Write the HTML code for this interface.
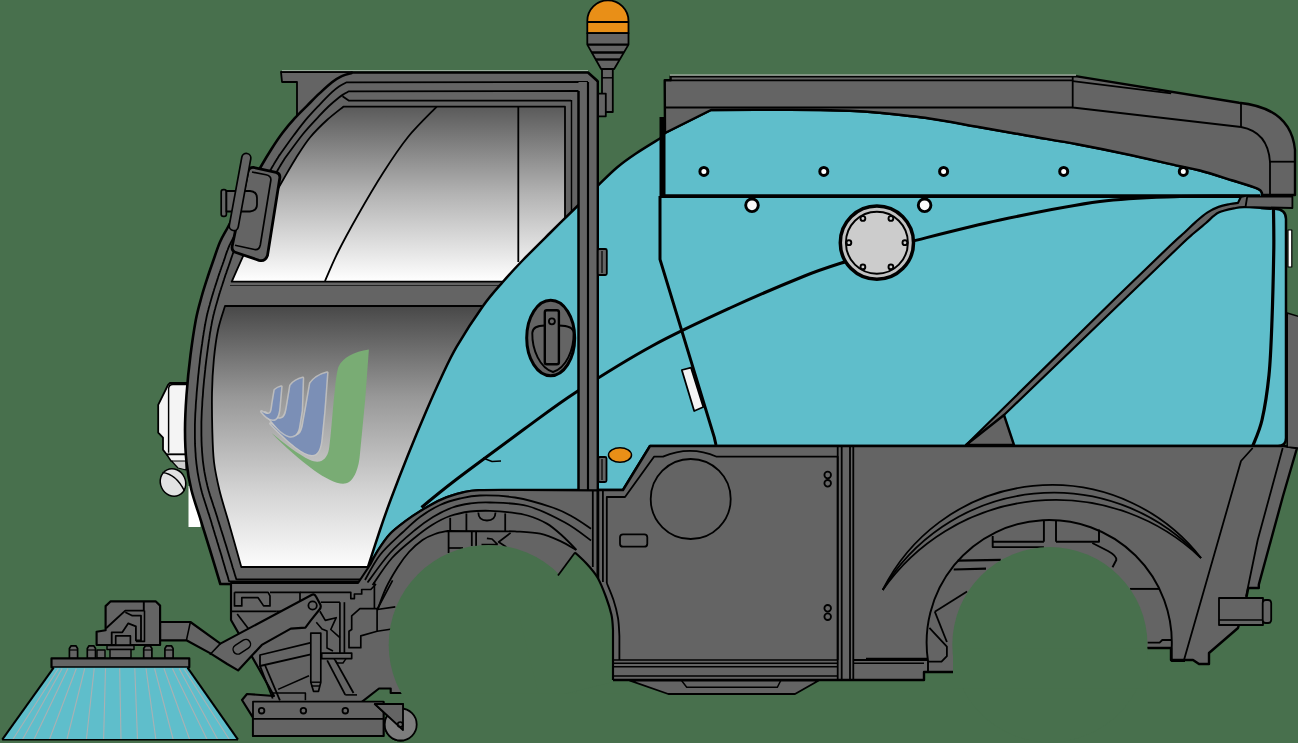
<!DOCTYPE html>
<html><head><meta charset="utf-8"><title>Sweeper</title>
<style>html,body{margin:0;padding:0;background:#48704d;overflow:hidden}svg{display:block}</style>
</head><body>
<svg width="1298" height="743" viewBox="0 0 1298 743" stroke-linejoin="round" stroke-linecap="butt">
<defs>
<linearGradient id="g1" x1="0" y1="0" x2="0" y2="1"><stop offset="0" stop-color="#5a5a5a"/><stop offset="0.5" stop-color="#b3b3b3"/><stop offset="1" stop-color="#ffffff"/></linearGradient>
<linearGradient id="g2" x1="0" y1="0" x2="0" y2="1"><stop offset="0" stop-color="#484848"/><stop offset="0.35" stop-color="#989898"/><stop offset="0.7" stop-color="#d2d2d2"/><stop offset="1" stop-color="#fcfcfc"/></linearGradient>
</defs>
<rect width="1298" height="743" fill="#48704d"/>
<path d="M587.3 33.2 L587.3 21 A20.6 20.6 0 0 1 628.5 21 L628.5 33.2 Z" fill="#e98f17" stroke="#000" stroke-width="1.8" />
<path d="M587.3 22L628.5 22" fill="none" stroke="#000" stroke-width="1.8" />
<path d="M587.3 33.2 L628.5 33.2 L628.5 44.6 L614.2 69 L601.1 69 L587.3 44.6 Z" fill="#646464" stroke="#000" stroke-width="1.8" />
<path d="M587.3 44.6L628.5 44.6" fill="none" stroke="#000" stroke-width="2.4" />
<path d="M591.8 52.5L623.9 52.5" fill="none" stroke="#000" stroke-width="2.4" />
<path d="M595.7 59.5L619.8 59.5" fill="none" stroke="#000" stroke-width="2.4" />
<rect x="602" y="69" width="10.8" height="43" rx="0" fill="#646464" stroke="#000" stroke-width="1.8"/>
<path d="M602 77.8L612.8 77.8" fill="none" stroke="#000" stroke-width="1.44" />
<rect x="598.1" y="93.6" width="7.7" height="22.7" rx="0" fill="#646464" stroke="#000" stroke-width="1.8"/>
<path d="M281 72L352 72L352 125L297 125L297 82L282 82Z" fill="#646464" stroke="#000" stroke-width="1.8" />
<rect x="188.5" y="486" width="12" height="41" rx="0" fill="#fff" stroke="none" stroke-width="0"/>
<path d="M170 383L195 383L195 454.5L166.7 454.5L163 449.7L163 437.6L158.2 432.7L158.2 404.8L168 385Z" fill="#f4f4f4" stroke="#000" stroke-width="1.8" />
<path d="M168.6 452.8 L168.6 389 Q168.6 384.5 173 384.5 L195 384.5" fill="none" stroke="#000" stroke-width="1.44" />
<path d="M166.7 454.5L195 454.5L195 470L171 461Z" fill="#f4f4f4" stroke="#000" stroke-width="1.44" />
<path d="M171.5 461L186 461L186 470L178 468Z" fill="#cfcfcf" stroke="#000" stroke-width="1.2" />
<ellipse cx="173" cy="482.5" rx="12.5" ry="14" transform="rotate(-25 173 482.5)" fill="#e2e2e2" stroke="#000" stroke-width="1.5"/>
<path d="M162.5 472.5 Q176 474 184.5 491" fill="none" stroke="#000" stroke-width="1.44" />
<path d="M282 70.6L588 70.6" fill="none" stroke="#b9c4ba" stroke-width="0.8" />
<path d="M351.7 72.5 L588 72.5 L597.5 81 L597.5 490 L520 490C513.2 490 488.8 489.8 479.3 490.2C469.8 490.6 469.4 490.9 463.1 492.4C456.8 493.9 448.8 496.2 441.6 499.4C434.4 502.5 426.1 507.6 420 511.3C413.9 515 410 517.7 405 521.5C400 525.3 394.5 529.2 390 534C385.5 538.8 381.3 545.3 378 550.5C374.7 555.7 371.3 562.6 370 565L368 578L360.3 584.5L220.3 584C218.6 578.3 213.3 560.7 210 550C206.7 539.3 203.8 530 200.7 520C197.6 510 193.8 499.7 191.4 490C189 480.3 187.6 472 186.5 462C185.4 452 185 441.2 185 430C185 418.8 185.6 407.5 186.5 395C187.4 382.5 188.9 367.5 190.5 355C192.1 342.5 194 329.7 195.8 320C197.6 310.3 199.5 304.3 201.5 297C203.5 289.7 206 282.2 208 276C210 269.8 211.5 265.7 213.5 260C215.5 254.3 217.6 247.5 220 242C222.4 236.5 225 232.7 228 227C231 221.3 234.3 214.8 238 208C241.7 201.2 245.9 193.3 250 186C254.1 178.7 258.8 170.2 262.4 164C266 157.8 268.2 154.2 271.5 149C274.8 143.8 278.5 138.1 282.4 133C286.3 127.9 290.7 122.7 294.8 118.2C298.9 113.7 302.9 109.9 307 105.8C311.1 101.7 315.3 97.3 319.5 93.4C323.7 89.5 328.3 85.2 332 82.3C335.7 79.4 338.5 77.6 341.8 76.1C345.1 74.5 350.1 73.5 351.7 73Z" fill="#646464" stroke="#000" stroke-width="2.6" />
<path d="M588 82L346.8 82.3C345.5 83 341.5 84.8 339 86.5C336.5 88.2 335.2 89.2 332 92.2C328.8 95.2 323.6 100.5 319.5 104.8C315.4 109.1 311.4 113.2 307.2 118.2C302.9 123.2 298.7 128.8 294 135C289.3 141.2 281.6 152.2 279.1 155.6L279.1 155.6L278.4 156.8L277.7 158L277 159.1L276.3 160.2L275.6 161.3L274.9 162.5L274.2 163.6L273.5 164.9L272.7 166.2L271.9 167.5L271.1 169L270.1 170.6L269.2 172.2L268.2 174L267.2 175.8L266.2 177.6L265.1 179.5L264 181.4L263 183.3L261.9 185.2L260.8 187.1L259.8 189L258.7 190.8L257.7 192.7L256.7 194.5L255.7 196.4L254.7 198.3L253.6 200.1L252.6 202L251.6 203.8L250.6 205.7L249.6 207.5L248.7 209.2L247.7 211L246.8 212.7L245.9 214.4L245 216.1L244.1 217.7L243.3 219.4L242.4 221L241.6 222.6L240.8 224.2L240 225.7L239.1 227.3L238.4 228.8L237.6 230.3L236.8 231.7L236 233.1L235.3 234.5L234.6 235.7L233.9 237L233.2 238.1L232.6 239.3L232 240.4L231.4 241.5L230.8 242.6L230.3 243.7L229.7 244.8L229.2 246L228.6 247.3L228.1 248.6L227.6 250L227 251.4L226.5 252.9L226 254.3L225.5 255.8L225 257.4L224.5 258.9L224 260.4L223.5 261.8L222.9 263.3L222.5 264.7L222 266L221.5 267.3L221.1 268.6L220.6 269.8L220.2 271.1L219.8 272.3L219.3 273.6L218.9 274.9L218.4 276.2L218 277.6L217.5 279.1L217 280.7L216.5 282.3L216 283.9L215.4 285.6L214.9 287.3L214.3 289L213.8 290.8L213.2 292.6L212.7 294.4L212.1 296.2L211.6 298L211.1 299.8L210.6 301.5L210.1 303.2L209.7 304.9L209.2 306.6L208.7 308.3L208.3 310L207.8 311.8L207.4 313.6L206.9 315.5L206.5 317.5L206.1 319.6L205.6 321.9L205.2 324.3L204.7 326.8L204.3 329.5L203.8 332.2L203.4 335L202.9 337.9L202.5 340.9L202.1 343.9L201.6 347L201.2 350.1L200.8 353.1L200.4 356.2L200 359.4L199.7 362.6L199.3 365.9L198.9 369.2L198.6 372.6L198.2 376L197.9 379.4L197.6 382.8L197.3 386.1L197 389.4L196.7 392.6L196.5 395.7L196.3 398.8L196 401.8L195.8 404.8L195.7 407.7L195.5 410.6L195.3 413.4L195.2 416.2L195.1 419L195 421.8L194.9 424.6L194.9 427.3L194.9 430L194.9 432.7L194.9 435.4L194.9 438.1L195 440.7L195 443.4L195.1 446L195.3 448.6L195.4 451.1L195.6 453.6L195.7 456.1L195.9 458.6L196.2 461L196.4 463.3L196.7 465.7L197 467.9L197.3 470.1L197.6 472.3L198 474.5L198.4 476.6L198.8 478.8L199.2 480.9L199.7 483.1L200.2 485.4L200.7 487.6L201.3 490L201.9 492.3L202.6 494.7L203.3 497.1L204.1 499.6L204.9 502L205.7 504.5L206.5 507L207.3 509.6L208.1 512.1L209 514.6L209.7 517.1L210.5 519.6L211.3 522.1L212 524.6L212.8 527L213.5 529.5L214.3 532L215 534.4L215.8 536.9L216.6 539.5L217.3 542L218.1 544.6L218.9 547.3L219.8 550.1L220.7 553.1L221.7 556.3L222.6 559.6L223.6 562.9L224.6 566.2L225.5 569.4L226.4 572.4L227.3 575.1L228 577.6L228.6 579.7L229.1 581.3L229.2 581.4L361 581.4" fill="none" stroke="#000" stroke-width="1.8" />
<path d="M579 91L349 91.3C348.2 91.8 345.6 93 344 94C342.4 95 341.8 95.2 339.3 97.2C336.8 99.2 332.3 102.9 329 106C325.7 109.1 323.8 111 319.5 115.7C315.2 120.4 308.8 126.8 303 134C297.2 141.2 287.5 154.8 284.4 159L284.4 159L283.7 160.2L283 161.3L282.3 162.4L281.6 163.5L281 164.6L280.3 165.7L279.6 166.9L278.9 168.1L278.2 169.3L277.4 170.7L276.5 172.2L275.6 173.7L274.7 175.4L273.7 177.1L272.7 178.9L271.6 180.7L270.6 182.6L269.5 184.5L268.4 186.4L267.4 188.3L266.3 190.2L265.3 192.1L264.3 193.9L263.2 195.7L262.2 197.6L261.2 199.4L260.2 201.3L259.2 203.1L258.2 205L257.2 206.8L256.2 208.7L255.2 210.5L254.2 212.2L253.3 214L252.4 215.7L251.5 217.4L250.6 219L249.7 220.7L248.9 222.3L248 223.9L247.2 225.5L246.3 227.1L245.5 228.7L244.7 230.2L243.9 231.8L243.1 233.3L242.3 234.7L241.6 236.2L240.8 237.5L240.1 238.8L239.4 240L238.8 241.1L238.2 242.2L237.6 243.3L237 244.3L236.5 245.3L235.9 246.4L235.4 247.4L234.9 248.6L234.4 249.7L233.9 251L233.4 252.3L232.9 253.6L232.4 255L231.9 256.5L231.4 257.9L230.9 259.4L230.4 260.9L229.9 262.4L229.4 263.9L228.9 265.3L228.4 266.7L227.9 268.1L227.5 269.4L227 270.6L226.6 271.9L226.2 273.1L225.7 274.3L225.3 275.6L224.9 276.9L224.4 278.2L224 279.6L223.5 281.1L223 282.6L222.5 284.2L222 285.8L221.4 287.5L220.9 289.2L220.3 290.9L219.8 292.6L219.2 294.4L218.7 296.2L218.2 297.9L217.7 299.7L217.2 301.5L216.7 303.2L216.2 304.9L215.7 306.6L215.3 308.2L214.8 309.9L214.4 311.5L214 313.3L213.5 315L213.1 316.9L212.7 318.8L212.2 320.9L211.8 323.1L211.4 325.4L210.9 327.9L210.5 330.5L210 333.2L209.6 336L209.2 338.9L208.7 341.8L208.3 344.8L207.9 347.8L207.5 350.9L207.1 353.9L206.7 357L206.3 360.1L205.9 363.3L205.5 366.6L205.2 369.9L204.8 373.3L204.5 376.6L204.1 380L203.8 383.3L203.5 386.7L203.2 389.9L203 393.1L202.8 396.2L202.5 399.2L202.3 402.2L202.2 405.2L202 408L201.8 410.9L201.7 413.7L201.6 416.5L201.5 419.2L201.4 422L201.4 424.7L201.4 427.4L201.4 430L201.4 432.7L201.4 435.3L201.5 437.9L201.5 440.5L201.6 443.1L201.7 445.7L201.9 448.2L202 450.7L202.2 453.1L202.4 455.6L202.6 457.9L202.8 460.3L203.1 462.6L203.4 464.8L203.7 467L204 469.1L204.3 471.2L204.7 473.3L205.1 475.4L205.5 477.4L205.9 479.5L206.4 481.6L206.9 483.7L207.4 485.9L208 488.2L208.6 490.5L209.3 492.8L210 495.2L210.8 497.6L211.6 500L212.4 502.4L213.2 504.9L214 507.4L214.9 509.9L215.7 512.5L216.5 515L217.3 517.5L218 520L218.8 522.4L219.6 524.9L220.4 527.4L221.1 529.8L221.9 532.3L222.7 534.8L223.5 537.3L224.3 539.9L225.1 542.5L225.9 545.1L226.8 547.9L227.7 551L228.7 554.2L229.7 557.5L230.7 560.8L231.7 564L232.6 567.2L233.6 570.2L234.4 573L235.1 575.4L235.8 577.5L236.3 579.2L236.5 579.3L363 579.3" fill="none" stroke="#000" stroke-width="1.8" />
<path d="M565 106.7L343.3 106.7C340.6 108.9 332.6 114.9 327 120C321.4 125.1 315.2 131.2 310 137.5C304.8 143.8 300.5 150.9 296 158C291.5 165.1 287.2 172.8 283 180C278.8 187.2 274.8 194.2 271 201C267.2 207.8 264.3 212.5 260 221C255.7 229.5 249.7 241.9 245 252C240.3 262.1 233.9 276.8 231.7 281.7L565 281.7Z" fill="url(#g1)" stroke="#000" stroke-width="1.8" />
<path d="M500 306L225 306C223.8 310 219.9 321 218 330C216.1 339 214.8 349.5 213.8 360C212.8 370.5 212.2 381.3 212 393C211.8 404.7 212 418.5 212.3 430C212.6 441.5 212.8 452 214 462C215.2 472 217.1 480.3 219.4 490C221.7 499.7 224.3 507.2 228 520C231.7 532.8 239.1 559.2 241.3 567L370 567L500 400Z" fill="url(#g2)" stroke="#000" stroke-width="1.8" />
<path d="M230 285.5L510 285.5" fill="none" stroke="#222" stroke-width="1" />
<path d="M571 100.7 L349 100.7 L342.5 96.3" fill="none" stroke="#000" stroke-width="1.8" />
<path d="M518.3 107L518.3 262" fill="none" stroke="#000" stroke-width="1.8" />
<path d="M436.7 106.7C431.9 111.8 416.9 126 408 137C399.1 148.1 391.3 160 383 173C374.7 186 365.5 201.8 358 215C350.5 228.2 343.5 241 338 252C332.5 263 327.2 276.2 325 281" fill="none" stroke="#000" stroke-width="1.8" />
<path d="M571.5 100L571.5 215" fill="none" stroke="#000" stroke-width="1.44" />
<path d="M368.9 349.6 L365.2 399.6 L359.8 455.6 C358.5 470 353 483 344.8 483.6 C337 484.5 325 478 314.6 470.7 C300 460 285 447 271.5 433 C284 443 298 454.5 310 460 C320 464.5 327 460 329 449 C331 435 333 405 335 388.8 C336 378 337 372 338.3 367.3 C343 357 354 352 368.9 349.6 Z" fill="#79ac74" stroke="none" stroke-width="0" />
<path d="M327.1 372.7 L324.3 410.4 L321.5 438 C320.5 449 318 455 312 455 C304 455 290 444 270.5 423.5 C282 433 290 436.5 296 435.5 C301 434.5 302.5 429 303.5 422 L306.4 406 L310.3 383.5 C315 377 320 374.5 327.1 372.7 Z" fill="#c6c6c6" stroke="#c6c6c6" stroke-width="3" stroke-opacity="0.8"/>
<path d="M327.1 372.7 L324.3 410.4 L321.5 438 C320.5 449 318 455 312 455 C304 455 290 444 270.5 423.5 C282 433 290 436.5 296 435.5 C301 434.5 302.5 429 303.5 422 L306.4 406 L310.3 383.5 C315 377 320 374.5 327.1 372.7 Z" fill="#7b8fb6" stroke="none" stroke-width="0" />
<path d="M302.8 378 L301.7 410.4 L299 427 C298 434 294 437 289 436 C282 434.5 273 424 265 412.5 C271 417 277 419.5 281 418.5 C285 417.5 286 413 286.8 408 L290.5 385.6 C294 381 298 379 302.8 378 Z" fill="#c6c6c6" stroke="#c6c6c6" stroke-width="3" stroke-opacity="0.8"/>
<path d="M302.8 378 L301.7 410.4 L299 427 C298 434 294 437 289 436 C282 434.5 273 424 265 412.5 C271 417 277 419.5 281 418.5 C285 417.5 286 413 286.8 408 L290.5 385.6 C294 381 298 379 302.8 378 Z" fill="#7b8fb6" stroke="none" stroke-width="0" />
<path d="M281.2 386.7 L279.3 408 C278.5 416 276.5 420 272.5 419.5 C268.5 419 265 416 261.5 411.5 C265 414 268.5 415 270.3 413 C271.8 411.5 272 408 272.5 404 L274.8 390 C277 388 279 387.2 281.2 386.7 Z" fill="#c6c6c6" stroke="#c6c6c6" stroke-width="3" stroke-opacity="0.8"/>
<path d="M281.2 386.7 L279.3 408 C278.5 416 276.5 420 272.5 419.5 C268.5 419 265 416 261.5 411.5 C265 414 268.5 415 270.3 413 C271.8 411.5 272 408 272.5 404 L274.8 390 C277 388 279 387.2 281.2 386.7 Z" fill="#7b8fb6" stroke="none" stroke-width="0" />
<path d="M368 567C370 560.8 376.1 541.7 380 530C383.9 518.3 387 509.5 391.7 497C396.4 484.5 402.2 469.5 408 455C413.8 440.5 421.2 422.8 426.7 410C432.2 397.2 436 388.6 441 378C446 367.4 449.7 358.7 456.7 346.7C463.7 334.7 475.3 316.8 483 306C490.7 295.2 496.3 289.4 503 281.7C509.7 274 515.2 268.1 523 260C530.8 251.9 540.9 242 550 233C559.1 224 569.6 213.8 577.5 206C585.4 198.2 590.9 192.4 597.5 186C604.1 179.6 610.6 172.9 617 167.5C623.4 162.1 628.8 158.3 636 153.5C643.2 148.7 656 141 660 138.5L665 133L711 110C724.2 110 766.8 109.6 790 109.7C813.2 109.8 835 110.3 850 110.8C865 111.3 866.8 111.5 880 112.8C893.2 114.1 912.9 116 929.3 118.4C945.7 120.8 962.1 124.1 978.6 127C995.1 129.9 1011.6 132.8 1028 135.7C1044.4 138.6 1060.8 141.2 1077.2 144.3C1093.6 147.4 1110 150.7 1126.5 154.2C1143 157.7 1163.7 162.6 1175.9 165.3C1188.2 168 1190.5 168 1200 170.5C1209.5 173 1223.1 177.5 1232.7 180.5C1242.3 183.5 1252.6 186.5 1257.5 188.6C1262.4 190.7 1261.2 192.3 1262 193L1261 208L1275 208.8Q1286 209.5 1286 219L1286 438Q1286 446 1278 446L650 446L623 490L598 490L520 490C513.2 490 488.8 489.8 479.3 490.2C469.8 490.6 469.4 490.9 463.1 492.4C456.8 493.9 448.8 496.2 441.6 499.4C434.4 502.5 426.1 507.6 420 511.3C413.9 515 410 517.7 405 521.5C400 525.3 394.5 529.2 390 534C385.5 538.8 381.3 545.3 378 550.5C374.7 555.7 371.3 562.6 370 565Z" fill="#5fbecb" stroke="#000" stroke-width="2.5" />
<path d="M421.5 507.5C424.2 505.2 432.1 498.6 437.8 494C443.5 489.4 448.4 485.5 455.6 480C462.8 474.5 469.4 469.6 481 461C492.6 452.4 509.1 440.1 525 428.5C541 416.9 555.5 405.5 576.7 391.7C598 377.9 627 359.6 652.5 345.7C678 331.8 704.7 319.6 730 308C755.3 296.4 785.2 283.8 804.5 276C823.8 268.2 839.1 263.9 846 261.5" fill="none" stroke="#000" stroke-width="3" />
<path d="M911 241.5C925.8 237.9 968.5 226.7 1000 220C1031.5 213.3 1070 205.4 1100 201.5C1130 197.6 1156.7 197.4 1180 196.5C1203.3 195.6 1230 196.1 1240 196" fill="none" stroke="#000" stroke-width="3" />
<path d="M483 458 L492 461.5 L501 461" fill="none" stroke="#000" stroke-width="1.44" />
<rect x="578.5" y="82" width="19.5" height="408" rx="0" fill="#646464" stroke="none" stroke-width="0"/>
<path d="M578.5 91L578.5 490" fill="none" stroke="#000" stroke-width="2.5" />
<path d="M588 82L588 490" fill="none" stroke="#000" stroke-width="2.16" />
<path d="M597.8 81L597.8 490" fill="none" stroke="#000" stroke-width="2.4" />
<rect x="597.8" y="249" width="9" height="26" rx="1.5" fill="#646464" stroke="#000" stroke-width="1.8"/>
<path d="M602 251L602 273" fill="none" stroke="#000" stroke-width="1.2" />
<rect x="598.3" y="457" width="8.2" height="25" rx="1.5" fill="#646464" stroke="#000" stroke-width="1.8"/>
<path d="M602 459L602 480" fill="none" stroke="#000" stroke-width="1.2" />
<path d="M664.7 80.3 L670.6 80.3 L670.6 76.4 L1077 76.4 L1239 102.7 Q1291 108 1295 150 L1295 195 L1262 195 L1262 193C1261.2 192.3 1262.4 190.7 1257.5 188.6C1252.6 186.5 1242.3 183.5 1232.7 180.5C1223.1 177.5 1209.5 173 1200 170.5C1190.5 168 1188.2 168 1175.9 165.3C1163.7 162.6 1143 157.7 1126.5 154.2C1110 150.7 1093.6 147.4 1077.2 144.3C1060.8 141.2 1044.4 138.6 1028 135.7C1011.6 132.8 995.1 129.9 978.6 127C962.1 124.1 945.7 120.8 929.3 118.4C912.9 116 893.2 114.1 880 112.8C866.8 111.5 865 111.3 850 110.8C835 110.3 813.2 109.8 790 109.7C766.8 109.6 724.2 110 711 110L665 133Z" fill="#646464" stroke="#000" stroke-width="2.4" />
<path d="M665 107.5L1072.7 107.5" fill="none" stroke="#000" stroke-width="1.8" />
<path d="M670 75.1L1076 75.1" fill="none" stroke="#cfd6cf" stroke-width="1.0" />
<path d="M1072.7 81.2L1171.2 93.3" fill="none" stroke="#000" stroke-width="1.68" />
<path d="M670.6 80.3L1072.7 80.3" fill="none" stroke="#000" stroke-width="1.8" />
<path d="M1072.7 77L1072.7 107.5L1241 127" fill="none" stroke="#000" stroke-width="1.8" />
<path d="M1241 103L1241 127" fill="none" stroke="#000" stroke-width="1.8" />
<path d="M1241 127 Q1268 132 1270 162 L1270 195" fill="none" stroke="#000" stroke-width="1.8" />
<path d="M1269 161.7L1295 161.7" fill="none" stroke="#000" stroke-width="1.8" />
<path d="M662.5 117L662.5 196" fill="none" stroke="#000" stroke-width="6" />
<path d="M660 196 L660 259.4 L714.3 437.4 L716 445" fill="none" stroke="#000" stroke-width="3" />
<path d="M660 196.2L1260 196.2" fill="none" stroke="#000" stroke-width="3.7" />
<path d="M966 445L1116 297.7C1125.1 288.9 1159.5 255.8 1170.8 245C1182.1 234.2 1179.8 236.9 1184 233C1188.2 229.1 1191.9 225.2 1195.8 221.8C1199.7 218.4 1203.4 215.1 1207.2 212.6C1211 210.1 1214.8 208.3 1218.6 206.9C1222.4 205.5 1226.8 204.7 1230 204C1233.2 203.3 1236.7 203.1 1238 202.9L1240.8 198L1247.2 196.6L1245.5 207L1246 207C1244.3 207.2 1240.4 207.1 1235.8 208C1231.2 208.9 1223.6 210.1 1218.6 212.6C1213.6 215.1 1210.1 219.6 1206 223C1201.9 226.4 1198.2 229.3 1194 233C1189.8 236.7 1192.1 234.2 1180.8 245C1169.5 255.8 1135.1 288.9 1126 297.7L1004 415Z" fill="#646464" stroke="none" stroke-width="0" />
<path d="M966 445L1116 297.7C1125.1 288.9 1159.5 255.8 1170.8 245C1182.1 234.2 1179.8 236.9 1184 233C1188.2 229.1 1191.9 225.2 1195.8 221.8C1199.7 218.4 1203.4 215.1 1207.2 212.6C1211 210.1 1214.8 208.3 1218.6 206.9C1222.4 205.5 1226.8 204.7 1230 204C1233.2 203.3 1236.7 203.1 1238 202.9L1240.8 197" fill="none" stroke="#000" stroke-width="2.2" />
<path d="M1004 415L1126 297.7C1135.1 288.9 1169.5 255.8 1180.8 245C1192.1 234.2 1189.8 236.7 1194 233C1198.2 229.3 1201.9 226.4 1206 223C1210.1 219.6 1213.6 215.1 1218.6 212.6C1223.6 210.1 1231.2 208.9 1235.8 208C1240.4 207.1 1244.3 207.2 1246 207L1271 208.6" fill="none" stroke="#000" stroke-width="2.2" />
<path d="M966 445L1004 415L1014 445Z" fill="#646464" stroke="#000" stroke-width="2.4" />
<path d="M1247.2 196.6L1292.4 196.6L1292.4 208L1245.5 207Z" fill="#646464" stroke="#000" stroke-width="1.8" />
<path d="M1273.5 209C1273.5 215.5 1274 229.5 1273.8 248C1273.5 266.5 1272.8 298.8 1272 320C1271.2 341.2 1270.7 358.3 1269 375C1267.3 391.7 1264.7 408.2 1262 420C1259.3 431.8 1254.2 441.7 1252.7 446" fill="none" stroke="#000" stroke-width="3.2" />
<rect x="1288" y="230" width="3.8" height="37" rx="0" fill="#fff" stroke="#000" stroke-width="1.2"/>
<circle cx="703.9" cy="171.4" r="4" fill="#fff" stroke="#000" stroke-width="3"/>
<circle cx="823.8" cy="171.4" r="4" fill="#fff" stroke="#000" stroke-width="3"/>
<circle cx="943.6" cy="171.4" r="4" fill="#fff" stroke="#000" stroke-width="3"/>
<circle cx="1063.7" cy="171.4" r="4" fill="#fff" stroke="#000" stroke-width="3"/>
<circle cx="1183.3" cy="171.4" r="4" fill="#fff" stroke="#000" stroke-width="3"/>
<circle cx="752" cy="205.3" r="6.3" fill="#fafafa" stroke="#000" stroke-width="2.9"/>
<circle cx="924.6" cy="205.3" r="6.3" fill="#fafafa" stroke="#000" stroke-width="2.9"/>
<circle cx="876.9" cy="242.7" r="36.6" fill="#c2c2c2" stroke="#000" stroke-width="3.5"/>
<circle cx="876.9" cy="242.7" r="31" fill="#cccccc" stroke="#000" stroke-width="1.92"/>
<circle cx="904.9" cy="242.7" r="2.4" fill="#cccccc" stroke="#000" stroke-width="1.92"/>
<circle cx="890.9" cy="266.9" r="2.4" fill="#cccccc" stroke="#000" stroke-width="1.92"/>
<circle cx="862.9" cy="266.9" r="2.4" fill="#cccccc" stroke="#000" stroke-width="1.92"/>
<circle cx="848.9" cy="242.7" r="2.4" fill="#cccccc" stroke="#000" stroke-width="1.92"/>
<circle cx="862.9" cy="218.5" r="2.4" fill="#cccccc" stroke="#000" stroke-width="1.92"/>
<circle cx="890.9" cy="218.5" r="2.4" fill="#cccccc" stroke="#000" stroke-width="1.92"/>
<path d="M681.8 370L691 367.7L703.3 407L694.2 411Z" fill="#f4f4f4" stroke="#000" stroke-width="1.8" />
<ellipse cx="550.7" cy="338" rx="24" ry="37.7" fill="#646464" stroke="#000" stroke-width="3"/>
<path d="M544.8 325.5 C538 325.5 532.6 327 532.3 333 C532 350 540 368 553 372 C566 368 574 350 573.6 333 C573.3 327 566 325.5 558.9 325.5" fill="none" stroke="#000" stroke-width="1.92" />
<rect x="544.8" y="310.2" width="14.1" height="54" rx="2" fill="#646464" stroke="#000" stroke-width="2.4"/>
<circle cx="551.9" cy="321.3" r="3" fill="#646464" stroke="#000" stroke-width="1.8"/>
<ellipse cx="620" cy="455" rx="11.5" ry="7.3" fill="#e98f17" stroke="#000" stroke-width="1.5"/>
<path d="M598 490L623 490L650 446L1284 446L1297 448L1283 496L1258.8 584.6L1258.8 588L1248.3 588L1246.5 597L1238 628L1209 653L1209 664L1199 664L1193 660L1171 660L1171 648L1140 648L1140 672L924 672L924 680L598 680Z" fill="#646464" stroke="#000" stroke-width="2.4" />
<path d="M1287.2 313L1299 316.5L1299 448L1287.2 447Z" fill="#646464" stroke="#000" stroke-width="1.56" />
<path d="M370 565C371.3 562.6 374.7 555.7 378 550.5C381.3 545.3 385.5 538.8 390 534C394.5 529.2 400 525.3 405 521.5C410 517.7 413.9 515 420 511.3C426.1 507.6 434.4 502.5 441.6 499.4C448.8 496.2 456.8 493.9 463.1 492.4C469.4 490.9 469.8 490.6 479.3 490.2C488.8 489.8 500.2 490 520 490C539.8 490 585 490.2 598 490.3L598 680L420 700L404 693L390.7 693L390.7 688.5L379 688.5L358 704.9L383.5 702L383.5 736L253 736L253 717.6L242 700L247 694L274 696L259 669L231 620L231 583L358 583Z" fill="#646464" stroke="#000" stroke-width="2.16" />
<path d="M365 580C367.5 575.8 373.8 562.9 380 555C386.2 547.1 395.8 538.8 402.5 532.5C409.2 526.2 413.8 521.6 420 517C426.2 512.4 433.3 508.1 440 505C446.7 501.9 453.3 500.1 460 498.5C466.7 496.9 470.8 495.7 480 495.5C489.2 495.3 502.9 495.5 515 497.5C527.1 499.5 542.8 504.2 552.5 507.5C562.2 510.8 566.6 513.5 573 517C579.4 520.5 588 526.8 591 528.7" fill="none" stroke="#000" stroke-width="1.8" />
<path d="M367.5 582.5C371.2 577.6 382.1 561.8 390 553C397.9 544.2 407.8 536 415 530C422.2 524 426.8 520.8 433 517C439.2 513.2 446.3 509.8 452.5 507.5C458.7 505.2 463.8 504.3 470 503.5C476.2 502.7 480.4 502.1 490 502.5C499.6 502.9 515 502.7 527.5 506C540 509.3 554.4 516.8 565 522.5C575.6 528.2 586.7 537.5 591 540.5" fill="none" stroke="#000" stroke-width="1.8" />
<path d="M372.5 585C375.8 580.5 384.9 565.9 392 558C399.1 550.1 408.3 543 415 537.5C421.7 532 426.2 528.6 432 525C437.8 521.4 443.7 518.2 450 516C456.3 513.8 463.3 512.4 470 511.5C476.7 510.6 483.3 510.7 490 510.8C496.7 510.9 503.8 511.5 510 512.3C516.2 513.1 521.4 513.6 527.5 515.5C533.6 517.4 541.1 520.3 546.9 523.6C552.6 526.9 557.1 531.1 562 535.5C566.9 539.9 574.1 547.4 576.5 549.8" fill="none" stroke="#000" stroke-width="1.8" />
<path d="M377.5 610C378.9 606.3 382.7 595.1 386 588C389.3 580.9 393.7 573.5 397.5 567.5C401.3 561.5 404.8 556.6 409 552C413.2 547.4 418.2 543 422.5 540C426.8 537 430.8 535.5 435 534C439.2 532.5 445.4 531.5 447.5 531L515 531.3C519.2 531.7 532.6 532.1 540.2 533.7C547.8 535.3 554.4 538.4 560.4 541.1C566.4 543.8 573.4 548.5 576 550" fill="none" stroke="#000" stroke-width="1.8" />
<path d="M450.2 517.8L450.2 531.5" fill="none" stroke="#000" stroke-width="1.8" />
<path d="M448.6 531.5L448.6 553" fill="none" stroke="#000" stroke-width="1.8" />
<path d="M466.4 513.4L466.4 531.3" fill="none" stroke="#000" stroke-width="1.8" />
<path d="M505.2 513.4L505.2 531.3" fill="none" stroke="#000" stroke-width="1.8" />
<path d="M478.3 512.5 Q478.5 520.5 487 520.5 Q495.3 520.5 495.5 512.5" fill="none" stroke="#000" stroke-width="1.8" />
<path d="M471.8 531.5L471.8 546" fill="none" stroke="#000" stroke-width="1.8" />
<path d="M476.1 531.5L476.1 546" fill="none" stroke="#000" stroke-width="1.8" />
<path d="M448.6 548L463 548" fill="none" stroke="#000" stroke-width="1.68" />
<path d="M481.5 544.7 L497.7 544.7 M486.9 538.3 L492 539 L497.7 544.7 M510.6 532.9 L498.7 542 L506.3 547" fill="none" stroke="#000" stroke-width="1.68" />
<path d="M592.8 490L592.8 567" fill="none" stroke="#000" stroke-width="1.8" />
<path d="M597.7 490L597.7 578" fill="none" stroke="#000" stroke-width="2.4" />
<path d="M602.9 490L602.9 582" fill="none" stroke="#000" stroke-width="1.8" />
<path d="M606.8 583 L606.8 497 L625 497 L654 456.7 L663 456.7 Q690 445 716.7 456.7 L837.7 456.7 L837.7 660" fill="none" stroke="#000" stroke-width="1.8" />
<path d="M606.8 583C607.9 585.8 611.6 594.2 613.5 600C615.4 605.8 617 612 618 618C619 624 619.2 633 619.4 636L619.4 660" fill="none" stroke="#000" stroke-width="1.8" />
<circle cx="690.7" cy="499" r="40" fill="none" stroke="#000" stroke-width="1.8"/>
<rect x="620" y="534.3" width="27.3" height="12.4" rx="3" fill="none" stroke="#000" stroke-width="1.8"/>
<circle cx="827.7" cy="475" r="3.3" fill="none" stroke="#000" stroke-width="1.8"/>
<circle cx="827.7" cy="483.3" r="3.3" fill="none" stroke="#000" stroke-width="1.8"/>
<circle cx="827.7" cy="608.3" r="3.3" fill="none" stroke="#000" stroke-width="1.8"/>
<circle cx="827.7" cy="616.7" r="3.3" fill="none" stroke="#000" stroke-width="1.8"/>
<path d="M837.7 446L837.7 680" fill="none" stroke="#000" stroke-width="1.8" />
<path d="M841.7 446L841.7 680" fill="none" stroke="#000" stroke-width="1.8" />
<path d="M850 446L850 680" fill="none" stroke="#000" stroke-width="1.8" />
<path d="M853.3 446L853.3 680" fill="none" stroke="#000" stroke-width="1.8" />
<path d="M612.7 660L838 660" fill="none" stroke="#000" stroke-width="1.44" />
<path d="M612.7 663.3L838 663.3" fill="none" stroke="#000" stroke-width="1.44" />
<path d="M612.7 666.7L838 666.7" fill="none" stroke="#000" stroke-width="1.44" />
<path d="M612.7 676L838 676" fill="none" stroke="#000" stroke-width="1.44" />
<path d="M853 660L927 660" fill="none" stroke="#000" stroke-width="1.8" />
<path d="M853 663.3L924 663.3" fill="none" stroke="#000" stroke-width="1.44" />
<path d="M630 680.7L668.3 694L795 694L818.3 680.7Z" fill="#646464" stroke="#000" stroke-width="1.8" />
<path d="M681.7 680.7L686.7 687.3L777.3 687.3L780.7 680.7" fill="none" stroke="#000" stroke-width="1.44" />
<path d="M1252.7 448L1241 461L1184 660" fill="none" stroke="#000" stroke-width="1.8" />
<path d="M1282.7 448L1257.7 540L1246 596.7" fill="none" stroke="#000" stroke-width="1.8" />
<rect x="1219" y="598" width="44" height="27" rx="0" fill="#646464" stroke="#000" stroke-width="1.8"/>
<rect x="1262.7" y="600" width="8.5" height="23" rx="3" fill="#646464" stroke="#000" stroke-width="1.8"/>
<path d="M1219 620L1262 620" fill="none" stroke="#000" stroke-width="1.44" />
<path d="M882.7 590A188.8 188.8 0 0 1 1201 558" fill="none" stroke="#000" stroke-width="1.8" />
<path d="M882.7 590A198.8 198.8 0 0 1 1201 558" fill="none" stroke="#000" stroke-width="1.8" />
<path d="M882.7 590A211 211 0 0 1 1201 558" fill="none" stroke="#000" stroke-width="1.8" />
<path d="M928 672 L928 661A122.6 122.6 0 1 1 1171.7 648L1171.7 661 L1185 661" fill="none" stroke="#000" stroke-width="1.92" />
<path d="M992.7 536L992.7 547.1L1043.9 547.1" fill="none" stroke="#000" stroke-width="1.92" />
<path d="M992.7 541.7L1043.9 541.7" fill="none" stroke="#000" stroke-width="1.92" />
<path d="M1043.9 521L1043.9 541.7" fill="none" stroke="#000" stroke-width="1.92" />
<path d="M1056 521L1056 541.7" fill="none" stroke="#000" stroke-width="1.92" />
<path d="M1056 541.7L1099 541.7L1099 529.6" fill="none" stroke="#000" stroke-width="1.92" />
<path d="M1092.3 543 L1108 551 Q1117 556 1116.3 560 L1112.5 567.3" fill="none" stroke="#000" stroke-width="1.92" />
<path d="M957.7 560.6L1000.8 559.8" fill="none" stroke="#000" stroke-width="2.16" />
<path d="M953.7 569.5L986 568.7" fill="none" stroke="#000" stroke-width="2.16" />
<path d="M934.8 611.7L967.1 591.5" fill="none" stroke="#000" stroke-width="1.8" />
<path d="M934.8 611.7L946.9 642" fill="none" stroke="#000" stroke-width="1.8" />
<path d="M929.4 627.9L946.9 646.7L946.9 656.2L941.5 661.6L928 661.6" fill="none" stroke="#000" stroke-width="1.8" />
<path d="M1130 588.9L1159.6 588.9" fill="none" stroke="#000" stroke-width="1.92" />
<path d="M928 658.5L866 658.5" fill="none" stroke="#000" stroke-width="1.44" />
<path d="M1147.5 642.7L1159.6 642.7L1162.3 640L1171.5 640" fill="none" stroke="#000" stroke-width="1.8" />
<path d="M230.9 611.3L276.3 611.3" fill="none" stroke="#000" stroke-width="1.68" />
<path d="M234.5 592.3L268.1 592.3L270 595.9L270 605.9L263.6 605.9L258.1 597.7L241.8 597.7L241.8 605.9L234.5 605.9L234.5 592.3" fill="none" stroke="#000" stroke-width="1.68" />
<path d="M270 592.3L300 592.3L300 611.3L276.3 611.3" fill="none" stroke="#000" stroke-width="1.68" />
<path d="M237.2 614L249 629.5" fill="none" stroke="#000" stroke-width="1.68" />
<path d="M300 592.3L350.8 592.3L350.8 598.6L354.4 598.6L354.4 594L361.7 594L361.7 589.5L370.8 589.5L376 584" fill="none" stroke="#000" stroke-width="1.68" />
<path d="M374.4 582L374.4 608.6" fill="none" stroke="#000" stroke-width="1.68" />
<path d="M392.6 580.4L377.1 609.5L395.3 606.8" fill="none" stroke="#000" stroke-width="1.68" />
<path d="M359.9 608.6L377.1 608.6L377.1 631.3L360.8 635.9L360.8 647.7L349 647.7L349 631.3L351.7 629.5L351.7 615.9Z" fill="#646464" stroke="#000" stroke-width="1.68" />
<path d="M377.1 631.3L392 629" fill="none" stroke="#000" stroke-width="1.56" />
<path d="M339.9 602.2L339.9 653.1" fill="none" stroke="#000" stroke-width="1.68" />
<path d="M344.4 602.2L344.4 653.1" fill="none" stroke="#000" stroke-width="1.68" />
<path d="M320.8 602.2L339.9 602.2" fill="none" stroke="#000" stroke-width="1.56" />
<rect x="321.7" y="653.1" width="30" height="5.5" rx="0" fill="#646464" stroke="#000" stroke-width="1.68"/>
<path d="M334 658.6 L337 663 L343 663 L346 658.6" fill="none" stroke="#000" stroke-width="1.44" />
<path d="M319.9 611.3 L325.3 620.4 L336.2 617.7 L330.8 629.5 L339.9 637.7" fill="none" stroke="#000" stroke-width="1.68" />
<path d="M316.3 622.2 L322 629 L327 631 L327 648 L333 651" fill="none" stroke="#000" stroke-width="1.56" />
<path d="M260 665.8L272.7 698.5" fill="none" stroke="#000" stroke-width="1.8" />
<path d="M264.5 664L279.9 700.3" fill="none" stroke="#000" stroke-width="1.8" />
<path d="M327.2 660.4L345.3 694.9" fill="none" stroke="#000" stroke-width="1.8" />
<path d="M335.3 660.4L353.5 693" fill="none" stroke="#000" stroke-width="1.8" />
<path d="M278.1 689.4L309 675.8" fill="none" stroke="#000" stroke-width="1.56" />
<path d="M272.7 693L305.4 693L305.4 700.3" fill="none" stroke="#000" stroke-width="1.56" />
<path d="M345.3 694.9L357 694.9" fill="none" stroke="#000" stroke-width="1.56" />
<path d="M260 655L316.3 641.3L316.3 653.1L260 666Z" fill="#646464" stroke="#000" stroke-width="1.8" />
<path d="M310.8 633.1L320.8 633.1L320.8 682.2L318.5 691.3L313.5 691.3L310.8 682.2Z" fill="#646464" stroke="#000" stroke-width="1.68" />
<path d="M310.8 682.2L320.8 682.2" fill="none" stroke="#000" stroke-width="1.44" />
<path d="M311.5 686L320 686" fill="none" stroke="#000" stroke-width="1.44" />
<rect x="253" y="701.6" width="130.5" height="34.4" rx="0" fill="#646464" stroke="#000" stroke-width="1.8"/>
<path d="M253 718.8L383.5 718.8" fill="none" stroke="#000" stroke-width="1.8" />
<circle cx="261.6" cy="710.7" r="2.8" fill="none" stroke="#000" stroke-width="1.8"/>
<circle cx="303.4" cy="710.7" r="2.8" fill="none" stroke="#000" stroke-width="1.8"/>
<circle cx="345.3" cy="710.7" r="2.8" fill="none" stroke="#000" stroke-width="1.8"/>
<circle cx="400.7" cy="724.5" r="16" fill="#7d7d7d" stroke="#000" stroke-width="1.8"/>
<path d="M374.8 704L403 704L403 730Z" fill="#646464" stroke="#000" stroke-width="1.8" />
<circle cx="400.2" cy="724.5" r="2.5" fill="none" stroke="#000" stroke-width="1.56"/>
<circle cx="1049.9" cy="644.7" r="97.6" fill="#48704d" stroke="none" stroke-width="0"/>
<rect x="953" y="648.5" width="194.5" height="40" rx="0" fill="#48704d" stroke="none" stroke-width="0"/>
<circle cx="488.5" cy="644.7" r="99.8" fill="#48704d" stroke="none" stroke-width="0"/>
<path d="M558 575.5L575 552.5L586 563L597.5 577.5L606 597L611.5 615L613 630L613 682L540 700L520 620Z" fill="#48704d" stroke="none" stroke-width="0" />
<rect x="404" y="693.5" width="220" height="50" rx="0" fill="#48704d" stroke="none" stroke-width="0"/>
<path d="M575 552.5C576.8 554.2 582.2 558.8 586 563C589.8 567.2 594.2 571.8 597.5 577.5C600.8 583.2 603.7 590.8 606 597C608.3 603.2 610.3 609.5 611.5 615C612.7 620.5 612.8 627.5 613 630L613 680" fill="none" stroke="#000" stroke-width="2.16" />
<path d="M558 575.5L575 552.5" fill="none" stroke="#000" stroke-width="1.8" />
<circle cx="400.7" cy="724.5" r="16" fill="#7d7d7d" stroke="#000" stroke-width="1.8"/>
<path d="M374.8 704L403 704L403 730Z" fill="#646464" stroke="#000" stroke-width="1.8" />
<circle cx="400.2" cy="724.5" r="2.5" fill="none" stroke="#000" stroke-width="1.56"/>
<path d="M160 622 L190.4 622 L220.4 643.6 L311.5 595 Q314.5 593.5 316 596.5 L320.3 604.5 Q321.5 607 319.5 609.5 L310.8 620.4 L305.4 627.7 L290.8 628.6 L261.8 644.9 L238.1 670.4 L227.2 664 L210 653.1 L186.4 640.3 L160 640.3 Z" fill="#646464" stroke="#000" stroke-width="2.16" />
<circle cx="312.6" cy="605.5" r="4.2" fill="none" stroke="#000" stroke-width="1.8"/>
<path d="M190.4 622L186.4 640.3" fill="none" stroke="#000" stroke-width="1.56" />
<path d="M220.4 643.6L209.8 654.8" fill="none" stroke="#000" stroke-width="1.56" />
<rect x="232.3" y="642.1" width="19" height="9.4" rx="4.7" transform="rotate(-33 241.8 646.8)" fill="none" stroke="#000" stroke-width="1.5"/>
<path d="M96.6 645 L96.6 631.8 L105.6 630.3 L105.6 606.1 L110.7 601.3 L155.6 601.3 L160.1 605.6 L160.1 645 Z" fill="#646464" stroke="#000" stroke-width="2.16" />
<path d="M106.1 628.3 L125.3 610.6 L143.8 610.6 L143.8 601.6" fill="none" stroke="#000" stroke-width="1.92" />
<path d="M125.3 612.2 L132.4 615.7 L141 615.7 L141 640.4 L135.9 640.4 L135.9 626.3 L128.3 623.3 L122.3 632.3 L111.7 632.3 L111.7 645" fill="none" stroke="#000" stroke-width="1.8" />
<path d="M144.5 610.6 L144.5 641.4 L136 641.4" fill="none" stroke="#000" stroke-width="1.56" />
<rect x="115.7" y="635.9" width="14.7" height="9.1" rx="0" fill="#646464" stroke="#000" stroke-width="1.68"/>
<rect x="107" y="645.5" width="27" height="4" rx="0" fill="#646464" stroke="#000" stroke-width="1.44"/>
<rect x="110" y="649.5" width="21" height="8.5" rx="0" fill="#646464" stroke="#000" stroke-width="1.44"/>
<path d="M69.4 658.5 L69.4 648.5 L71.1 645.8 L75.9 645.8 L77.6 648.5 L77.6 658.5 Z" fill="#646464" stroke="#000" stroke-width="1.68" />
<path d="M69.4 650L77.6 650" fill="none" stroke="#000" stroke-width="1.2" />
<path d="M87.3 658.5 L87.3 648.5 L89 645.8 L93.8 645.8 L95.5 648.5 L95.5 658.5 Z" fill="#646464" stroke="#000" stroke-width="1.68" />
<path d="M87.3 650L95.5 650" fill="none" stroke="#000" stroke-width="1.2" />
<path d="M143.7 658.5 L143.7 648.5 L145.4 645.8 L150.2 645.8 L151.9 648.5 L151.9 658.5 Z" fill="#646464" stroke="#000" stroke-width="1.68" />
<path d="M143.7 650L151.9 650" fill="none" stroke="#000" stroke-width="1.2" />
<path d="M164.9 658.5 L164.9 648.5 L166.6 645.8 L171.4 645.8 L173.1 648.5 L173.1 658.5 Z" fill="#646464" stroke="#000" stroke-width="1.68" />
<path d="M164.9 650L173.1 650" fill="none" stroke="#000" stroke-width="1.2" />
<rect x="97" y="650" width="8" height="8" rx="0" fill="#646464" stroke="#000" stroke-width="1.44"/>
<rect x="51.5" y="658.3" width="137.8" height="9" rx="0" fill="#646464" stroke="#000" stroke-width="2.16"/>
<path d="M53.7 667.7L187.5 667.7L238 739.6L2.2 739.6Z" fill="#5fbecb" stroke="none" stroke-width="0" />
<path d="M58.4 668.5L12.8 739.5" fill="none" stroke="#a9b1b4" stroke-width="1.1" />
<path d="M62.1 668.5L22.5 739.5" fill="none" stroke="#a9b1b4" stroke-width="1.1" />
<path d="M67.9 668.5L34 739.5" fill="none" stroke="#a9b1b4" stroke-width="1.1" />
<path d="M76.3 668.5L49.4 739.5" fill="none" stroke="#a9b1b4" stroke-width="1.1" />
<path d="M84.7 668.5L67 739.5" fill="none" stroke="#a9b1b4" stroke-width="1.1" />
<path d="M94.2 668.5L86.4 739.5" fill="none" stroke="#a9b1b4" stroke-width="1.1" />
<path d="M105.5 668.5L103.6 739.5" fill="none" stroke="#a9b1b4" stroke-width="1.1" />
<path d="M119.7 668.5L121 739.5" fill="none" stroke="#a9b1b4" stroke-width="1.1" />
<path d="M134.8 668.5L137.5 739.5" fill="none" stroke="#a9b1b4" stroke-width="1.1" />
<path d="M146 668.5L155.9 739.5" fill="none" stroke="#a9b1b4" stroke-width="1.1" />
<path d="M154.6 668.5L173.2 739.5" fill="none" stroke="#a9b1b4" stroke-width="1.1" />
<path d="M164 668.5L189.7 739.5" fill="none" stroke="#a9b1b4" stroke-width="1.1" />
<path d="M172.4 668.5L207.1 739.5" fill="none" stroke="#a9b1b4" stroke-width="1.1" />
<path d="M179.1 668.5L217.7 739.5" fill="none" stroke="#a9b1b4" stroke-width="1.1" />
<path d="M183.8 668.5L229.3 739.5" fill="none" stroke="#a9b1b4" stroke-width="1.1" />
<path d="M2.2 739.8L238 739.8" fill="none" stroke="#000" stroke-width="1.44" />
<path d="M53.7 667.7L2.2 739.6" fill="none" stroke="#000" stroke-width="2.04" />
<path d="M187.5 667.7L238 739.6" fill="none" stroke="#000" stroke-width="2.04" />
<path d="M254 167.5 Q249.5 167 248 171.5 L232.2 246 Q231.3 251 236 252.5 L259 260.3 Q265 262 267.5 255.5 L279.8 178 Q280.5 173.5 276 172.3 Z" fill="#646464" stroke="#000" stroke-width="2.8" />
<path d="M252 172 L266 174.8 Q271.5 176 270.8 180.5 L260.3 245 Q259 250.5 254.5 249.5 L235 245.3" fill="none" stroke="#000" stroke-width="1.68" />
<rect x="221.2" y="189.7" width="5.2" height="26.7" rx="2.2" fill="#646464" stroke="#000" stroke-width="1.68"/>
<path d="M226.4 191 L250 191 Q257 191.5 257 198 L257 204.5 Q257 211 250 211.5 L226.4 211.5 Z" fill="#646464" stroke="#000" stroke-width="1.8" />
<line x1="246.3" y1="158" x2="233.8" y2="226" stroke="#000" stroke-width="10.8" stroke-linecap="round"/>
<line x1="246.3" y1="158" x2="233.8" y2="226" stroke="#646464" stroke-width="7.4" stroke-linecap="round"/>
</svg>
</body></html>
